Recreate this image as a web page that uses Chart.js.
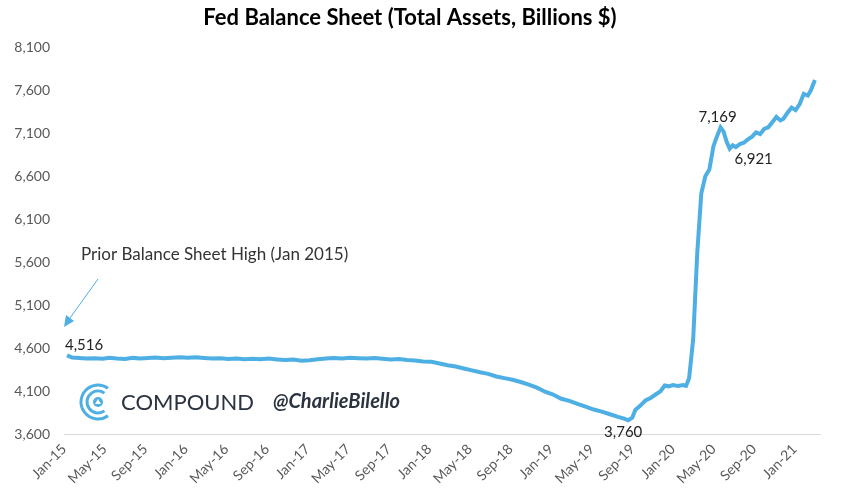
<!DOCTYPE html>
<html>
<head>
<meta charset="utf-8">
<script src="https://cdn.jsdelivr.net/npm/chart.js@4"></script>
<style>
  html, body { margin: 0; padding: 0; background: #fff; }
  #wrap { width: 842px; height: 488px; }
</style>
</head>
<body>
<div id="wrap"><canvas id="fedChart"></canvas></div>
<script>
// months since Jan 2015 (fractional) and total assets in billions $
const months = [
  0.3, 0.8, 1.5, 2.2, 3.0, 3.8, 4.5, 5.2, 6.0, 6.8, 7.5, 8.3, 9.0, 9.8, 10.6, 11.4,
  12.2, 13.0, 13.8, 14.6, 15.4, 16.2, 17.0, 17.8, 18.6, 19.4, 20.2, 21.0, 21.8, 22.6, 23.4,
  24.2, 25.0, 25.8, 26.6, 27.4, 28.2, 29.0, 29.8, 30.6, 31.4, 32.2, 33.0, 33.8, 34.6, 35.4,
  36.2, 37.0, 37.8, 38.6, 39.4, 40.2, 41.0, 41.8, 42.6, 43.4, 44.2, 45.0, 45.8, 46.6, 47.4,
  48.2, 49.0, 49.8, 50.6, 51.4, 52.2, 53.0, 53.8, 54.6, 55.2, 55.6, 56.0, 56.3, 56.8, 57.3,
  57.8, 58.3, 58.8, 59.2, 59.6, 60.0, 60.5, 61.0, 61.3, 61.6, 62.0, 62.4, 62.8, 63.2, 63.6,
  64.0, 64.3, 64.7, 65.0, 65.3, 65.6, 65.9, 66.2, 66.6, 67.0, 67.4, 67.8, 68.2, 68.6, 69.0,
  69.4, 69.8, 70.2, 70.6, 70.9, 71.3, 71.7, 72.1, 72.5, 72.9, 73.3, 73.6, 74.0
];
const assets = [
  4516, 4490, 4485, 4478, 4482, 4476, 4488, 4480, 4474, 4486, 4479, 4484, 4490, 4482, 4488, 4494,
  4487, 4492, 4484, 4478, 4482, 4474, 4480, 4471, 4476, 4470, 4478, 4468, 4460, 4466, 4452,
  4458, 4470, 4478, 4486, 4480, 4488, 4482, 4478, 4484, 4476, 4468, 4472, 4462, 4455, 4444,
  4440, 4420, 4400, 4385, 4362, 4340, 4318, 4300, 4270, 4250, 4232, 4205, 4175, 4140, 4092,
  4060, 4010, 3985, 3950, 3918, 3885, 3860, 3830, 3800, 3780, 3760, 3790, 3880, 3930, 3990,
  4020, 4060, 4100, 4165, 4155, 4170, 4160, 4170, 4160, 4250, 4700, 5700, 6400, 6600, 6680,
  6950, 7050, 7169, 7120, 7000, 6921, 6960, 6940, 6975, 6990, 7030, 7060, 7110, 7090, 7150,
  7170, 7230, 7290, 7250, 7270, 7340, 7400, 7370, 7440, 7560, 7540, 7600, 7720
];
const monthNames = ['Jan', 'May', 'Sep'];
const labeled = [
  { i: 0, text: '4,516', dx: 17, dy: -10 },
  { i: 71, text: '3,760', dx: -5, dy: 12 },
  { i: 93, text: '7,169', dx: -3, dy: -10 },
  { i: 96, text: '6,921', dx: 24, dy: 10 },
  { i: 123, text: '7,720', dx: -20, dy: -9 }
];

const lineBlue = '#4DAFE3';
const fontFam = 'Lato, "Open Sans", sans-serif';

const annotations = {
  id: 'annotations',
  afterDatasetsDraw(chart) {
    const ctx = chart.ctx;
    const xs = chart.scales.x;
    const ys = chart.scales.y;
    ctx.save();
    ctx.font = '15px ' + fontFam;
    ctx.fillStyle = '#222';
    ctx.textAlign = 'center';
    ctx.textBaseline = 'middle';
    labeled.forEach(l => {
      const px = xs.getPixelForValue(months[l.i]);
      const py = ys.getPixelForValue(assets[l.i]);
      ctx.fillText(l.text, px + l.dx, py + l.dy);
    });

    // callout
    ctx.textAlign = 'left';
    ctx.fillStyle = '#333';
    ctx.font = '17px ' + fontFam;
    ctx.fillText('Prior Balance Sheet High (Jan 2015)', 81, 255);
    ctx.strokeStyle = lineBlue;
    ctx.lineWidth = 1;
    ctx.beginPath();
    ctx.moveTo(98, 279);
    ctx.lineTo(70, 318);
    ctx.stroke();
    ctx.fillStyle = lineBlue;
    ctx.beginPath();
    ctx.moveTo(64, 327);
    ctx.lineTo(66, 315);
    ctx.lineTo(74, 321);
    ctx.closePath();
    ctx.fill();

    // logo
    const cx = 98, cy = 402;
    ctx.strokeStyle = lineBlue;
    ctx.lineWidth = 3;
    [17, 11].forEach(r => {
      ctx.beginPath();
      ctx.arc(cx, cy, r, Math.PI * 0.3, Math.PI * 1.7);
      ctx.stroke();
    });
    ctx.beginPath();
    ctx.arc(cx, cy, 5, 0, Math.PI * 2);
    ctx.fill();
    ctx.fillStyle = '#fff';
    ctx.beginPath();
    ctx.moveTo(cx, cy - 3);
    ctx.lineTo(cx + 3, cy + 2);
    ctx.lineTo(cx - 3, cy + 2);
    ctx.closePath();
    ctx.fill();
    ctx.fillStyle = '#2b3340';
    ctx.font = '22px ' + fontFam;
    ctx.fillText('COMPOUND', 121, 403);
    ctx.font = 'italic bold 20px ' + fontFam;
    ctx.fillText('@CharlieBilello', 273, 402);
    ctx.restore();
  }
};

new Chart(document.getElementById('fedChart'), {
  type: 'line',
  data: {
    datasets: [{
      data: months.map((m, i) => ({ x: m, y: assets[i] })),
      borderColor: lineBlue,
      borderWidth: 4,
      pointRadius: 0,
      tension: 0,
      fill: false
    }]
  },
  options: {
    responsive: true,
    maintainAspectRatio: false,
    animation: false,
    layout: { padding: { left: 0, right: 22, top: 0, bottom: 0 } },
    plugins: {
      legend: { display: false },
      tooltip: { enabled: false },
      title: {
        display: true,
        text: 'Fed Balance Sheet (Total Assets, Billions $)',
        color: '#000',
        font: { family: fontFam, size: 22, weight: 'bold' },
        padding: { top: 5, bottom: 16 }
      }
    },
    scales: {
      x: {
        type: 'linear',
        min: 0,
        max: 74.5,
        afterFit: s => { s.height = 54; },
        grid: { display: false, drawTicks: false },
        border: { display: true, color: '#d9d9d9', width: 1 },
        ticks: {
          stepSize: 4,
          includeBounds: false,
          autoSkip: false,
          maxRotation: 45,
          minRotation: 45,
          padding: 7,
          color: '#595959',
          font: { family: fontFam, size: 14 },
          callback: v => {
            const name = monthNames[(v % 12) / 4];
            const yr = 15 + Math.floor(v / 12);
            return name + '-' + yr;
          }
        }
      },
      y: {
        min: 3600,
        max: 8100,
        afterFit: s => { s.width = 64; },
        grid: { display: false, drawTicks: false },
        border: { display: false },
        ticks: {
          stepSize: 500,
          padding: 14,
          color: '#595959',
          font: { family: fontFam, size: 14 },
          callback: v => v.toLocaleString('en-US')
        }
      }
    }
  },
  plugins: [annotations]
});
</script>
</body>
</html>
